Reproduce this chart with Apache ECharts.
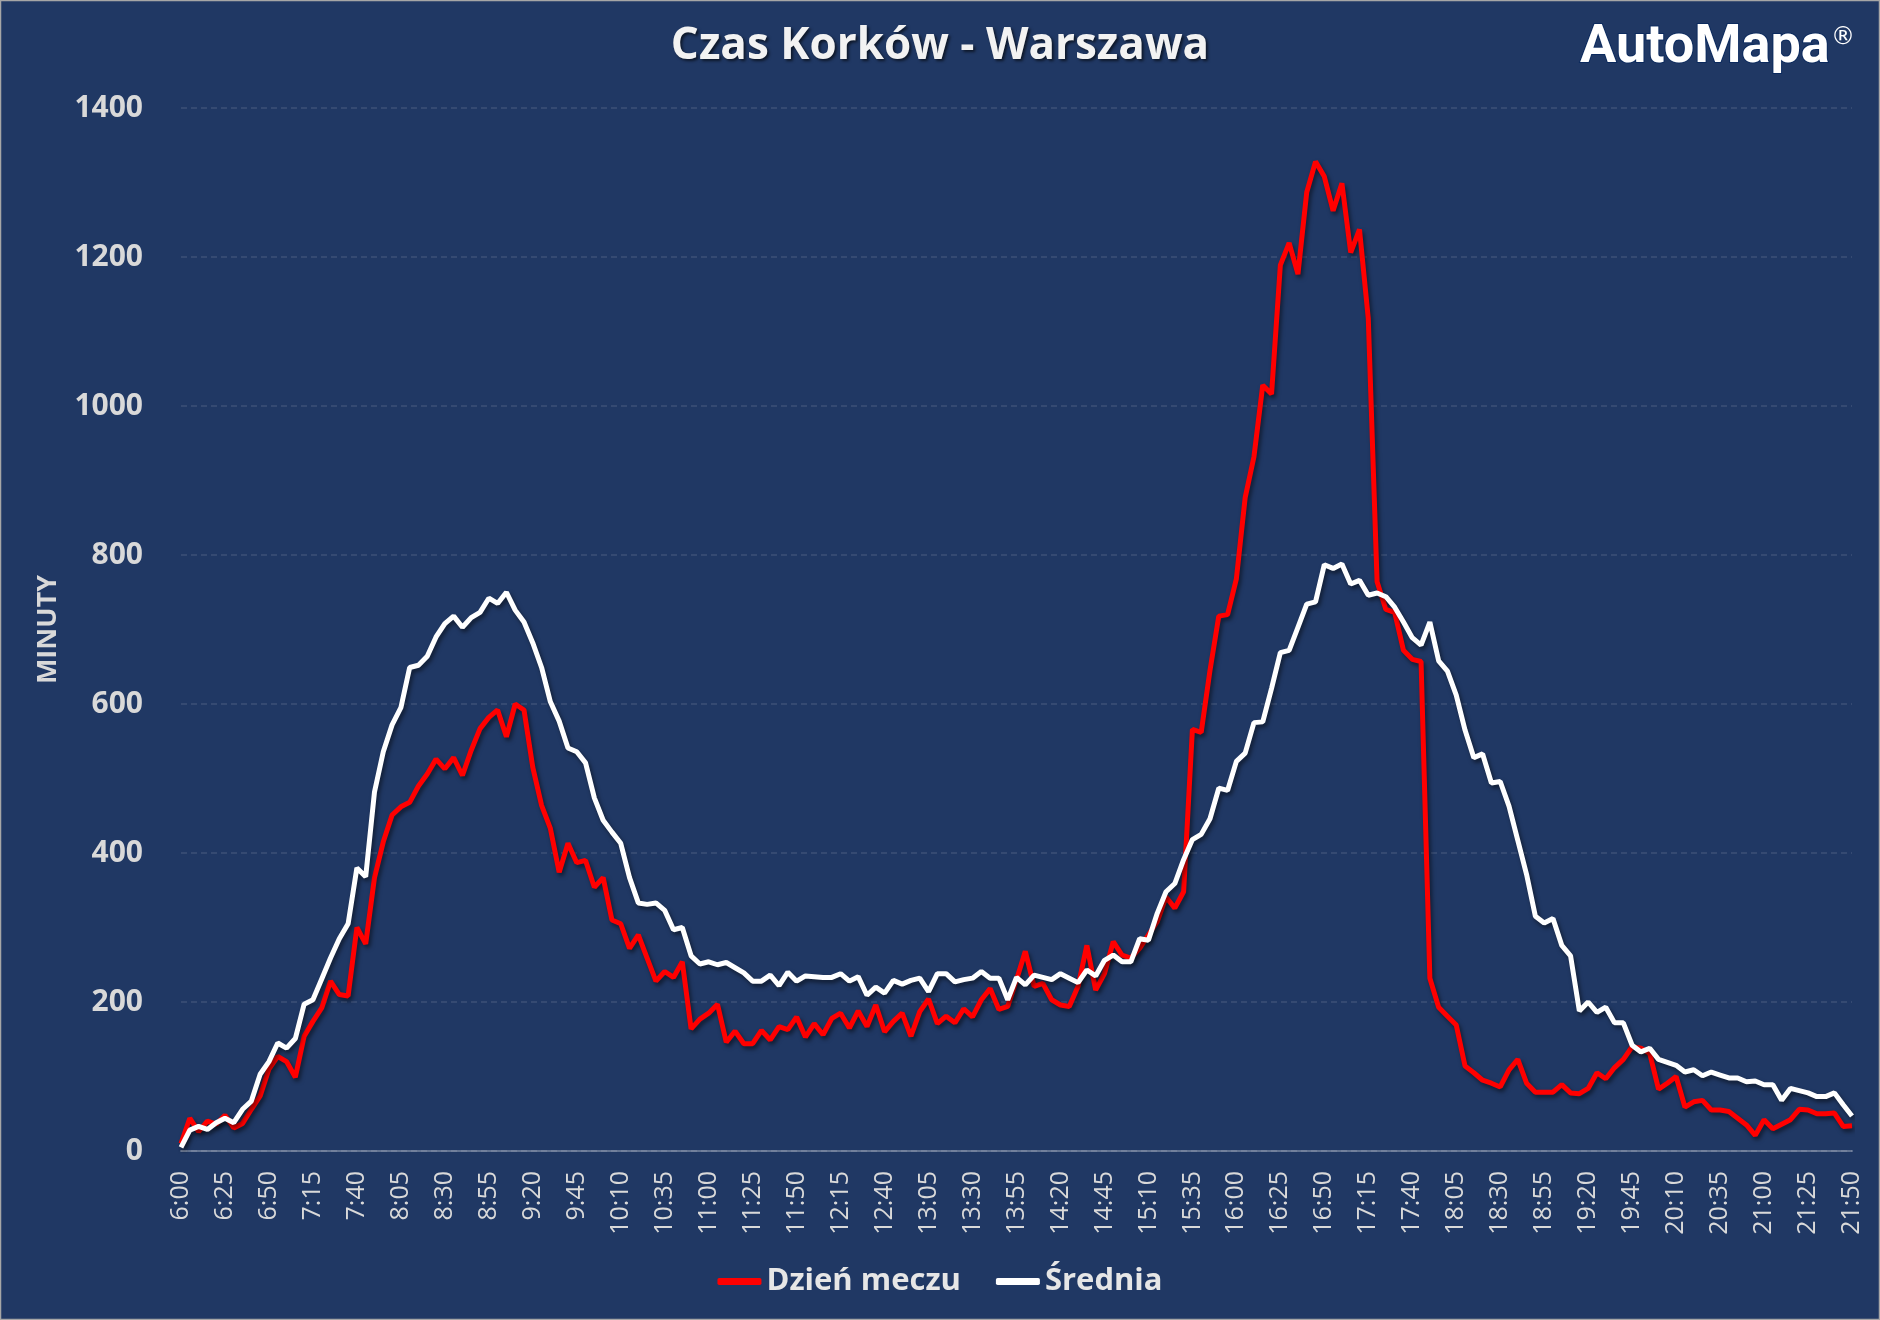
<!DOCTYPE html>
<html lang="pl">
<head>
    <meta charset="UTF-8">
    <title>Czas Korków - Warszawa</title>
    <script src="https://cdn.jsdelivr.net/npm/echarts@6.0.0/dist/echarts.min.js"></script>
    <style>
        html, body {
            margin: 0;
            height: 100%;
            background-color: #203864;
        }
        #main {
            width: 1880px;
            height: 1320px;
        }
    </style>
</head>
<body>
    <div id="main"></div>

    <script>
        // czas: od 6:00 do 21:50 co 5 minut (191 punktów)
        var startHour = 6;
        var stepMinutes = 5;
        var pointCount = 191;

        // Dzień meczu (minuty korków)
        var dzienMeczu = [
            10, 44, 26, 40, 36, 48, 31, 37, 56, 74,
            110, 127, 120, 99, 154, 174, 192, 228, 210, 208,
            300, 278, 367, 415, 451, 462, 468, 490, 506, 526,
            513, 528, 504, 538, 567, 582, 592, 556, 600, 592,
            515, 464, 433, 374, 413, 387, 390, 354, 367, 310,
            305, 272, 290, 259, 228, 241, 233, 254, 164, 177,
            185, 197, 146, 161, 144, 144, 162, 149, 167, 163,
            180, 153, 171, 156, 178, 185, 165, 188, 167, 196,
            160, 174, 185, 154, 187, 204, 171, 181, 172, 191,
            180, 203, 218, 190, 194, 230, 268, 221, 225, 203,
            196, 194, 221, 276, 216, 238, 281, 263, 259, 272,
            290, 308, 341, 326, 348, 566, 562, 645, 718, 720,
            768, 877, 932, 1028, 1016, 1189, 1219, 1177, 1287, 1328,
            1308, 1262, 1299, 1206, 1237, 1117, 764, 727, 723, 672,
            660, 657, 232, 193, 181, 169, 114, 105, 95, 91,
            86, 109, 123, 91, 79, 79, 79, 89, 78, 77,
            84, 105, 97, 112, 123, 140, 138, 131, 83, 91,
            100, 59, 66, 68, 55, 55, 53, 44, 35, 21,
            42, 30, 36, 42, 56, 55, 50, 50, 51, 33,
            34
        ];

        // Średnia
        var srednia = [
            5, 28, 33, 29, 38, 44, 38, 56, 67, 103,
            120, 145, 138, 151, 197, 203, 231, 259, 285, 305,
            380, 368, 482, 536, 572, 595, 649, 652, 664, 690,
            708, 718, 703, 716, 723, 742, 735, 750, 726, 710,
            682, 649, 603, 577, 541, 536, 521, 474, 444, 428,
            413, 367, 333, 331, 333, 323, 297, 300, 262, 251,
            254, 250, 253, 246, 239, 228, 228, 236, 222, 240,
            228, 235, 234, 233, 233, 238, 228, 234, 209, 220,
            212, 229, 224, 229, 232, 214, 238, 238, 227, 230,
            232, 241, 232, 232, 203, 233, 223, 236, 233, 230,
            238, 232, 226, 243, 235, 256, 263, 254, 254, 285,
            283, 319, 348, 359, 391, 418, 425, 446, 487, 484,
            523, 534, 575, 576, 621, 669, 672, 703, 734, 737,
            787, 782, 788, 761, 766, 746, 749, 744, 730, 710,
            689, 679, 710, 658, 644, 612, 565, 528, 533, 494,
            496, 463, 417, 371, 315, 306, 312, 276, 262, 188,
            200, 186, 193, 172, 172, 142, 133, 138, 123, 119,
            115, 106, 109, 101, 106, 102, 98, 98, 93, 94,
            89, 89, 68, 84, 81, 78, 73, 73, 78, 62,
            47
        ];

        var seriesNames = ['Dzień meczu', 'Średnia'];
        var yTicks = [0, 200, 400, 600, 800, 1000, 1200, 1400];

        var godziny = [];
        for (var i = 0; i < pointCount; i++) {
            var m = startHour * 60 + i * stepMinutes;
            var mm = m % 60;
            godziny.push(Math.floor(m / 60) + ':' + (mm < 10 ? '0' + mm : mm));
        }

        var labelColor = '#d9d9d9';

        var option = {
            backgroundColor: '#203864',
            animation: false,
            title: {
                text: 'Czas Korków - Warszawa',
                left: 'center',
                top: 19,
                textStyle: {
                    color: '#f2f2f2',
                    fontFamily: 'Open Sans',
                    fontWeight: 'bold',
                    fontSize: 44,
                    textShadowColor: 'rgba(0,0,0,0.6)',
                    textShadowBlur: 3,
                    textShadowOffsetX: 2,
                    textShadowOffsetY: 2
                }
            },
            graphic: [
                {
                    type: 'text',
                    x: 1580,
                    y: 48,
                    style: {
                        text: 'AutoMapa',
                        fill: '#ffffff',
                        stroke: '#0b2a5e',
                        lineWidth: 2,
                        fontFamily: 'Roboto',
                        fontWeight: 'bold',
                        fontSize: 54,
                        verticalAlign: 'middle'
                    }
                },
                {
                    type: 'text',
                    x: 1831,
                    y: 38,
                    style: {
                        text: '®',
                        fill: '#ffffff',
                        fontFamily: 'DejaVu Sans',
                        fontSize: 24,
                        verticalAlign: 'middle'
                    }
                },
                {
                    type: 'rect',
                    shape: { x: 0.5, y: 0.5, width: 1879, height: 1319 },
                    style: { fill: 'none', stroke: '#a6a6a6', lineWidth: 1.5 },
                    silent: true
                }
            ],
            legend: {
                data: seriesNames,
                left: 'center',
                top: 1261,
                icon: 'roundRect',
                itemWidth: 44,
                itemHeight: 7,
                itemGap: 35,
                textStyle: {
                    color: '#e6e6e6',
                    fontFamily: 'Open Sans',
                    fontWeight: 'bold',
                    fontSize: 31
                }
            },
            grid: {
                left: 181,
                right: 28,
                top: 108,
                bottom: 169
            },
            xAxis: {
                type: 'category',
                boundaryGap: false,
                data: godziny,
                axisTick: { show: false },
                axisLine: {
                    lineStyle: { color: 'rgba(255,255,255,0.3)', width: 2 }
                },
                axisLabel: {
                    interval: 4,
                    rotate: 90,
                    margin: 20,
                    color: labelColor,
                    fontFamily: 'Open Sans',
                    fontSize: 25
                },
                splitLine: { show: false }
            },
            yAxis: {
                type: 'value',
                min: yTicks[0],
                max: yTicks[yTicks.length - 1],
                interval: 200,
                name: 'MINUTY',
                nameLocation: 'middle',
                nameRotate: 90,
                nameGap: 119,
                nameTextStyle: {
                    color: labelColor,
                    fontFamily: 'Open Sans',
                    fontWeight: 'bold',
                    fontSize: 27
                },
                axisLine: { show: false },
                axisTick: { show: false },
                axisLabel: {
                    margin: 38,
                    color: labelColor,
                    fontFamily: 'Open Sans',
                    fontWeight: 'bold',
                    fontSize: 30,
                    formatter: function (v) { return String(v); }
                },
                splitLine: {
                    lineStyle: {
                        color: 'rgba(255,255,255,0.13)',
                        width: 1.5,
                        type: [6, 4]
                    }
                }
            },
            series: [
                {
                    name: seriesNames[0],
                    type: 'line',
                    data: dzienMeczu,
                    showSymbol: false,
                    color: '#ff0000',
                    lineStyle: {
                        width: 5,
                        color: '#ff0000',
                        shadowColor: 'rgba(0,0,0,0.5)',
                        shadowBlur: 4,
                        shadowOffsetX: 2,
                        shadowOffsetY: 3
                    }
                },
                {
                    name: seriesNames[1],
                    type: 'line',
                    data: srednia,
                    showSymbol: false,
                    color: '#ffffff',
                    lineStyle: {
                        width: 5,
                        color: '#ffffff',
                        shadowColor: 'rgba(0,0,0,0.5)',
                        shadowBlur: 4,
                        shadowOffsetX: 2,
                        shadowOffsetY: 3
                    }
                }
            ]
        };

        var myChart = echarts.init(document.getElementById('main'));
        myChart.setOption(option);
    </script>
</body>
</html>
